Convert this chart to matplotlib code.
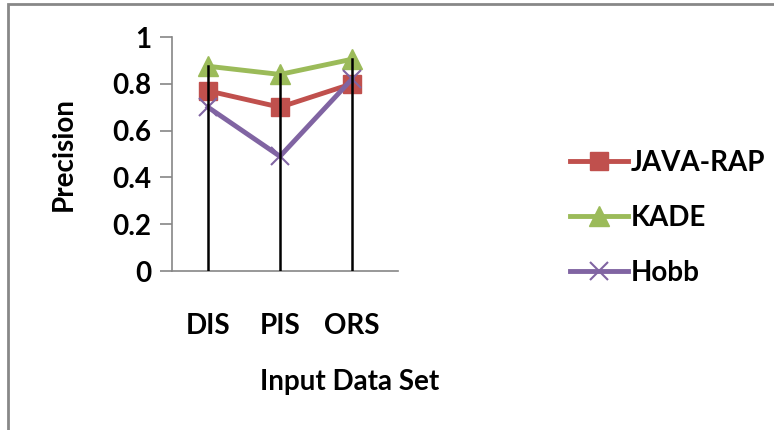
import matplotlib.pyplot as plt
from matplotlib.patches import Rectangle

categories = ["DIS", "PIS", "ORS"]
java_rap = [0.77, 0.70, 0.80]
kade = [0.875, 0.84, 0.905]
hobb = [0.70, 0.49, 0.82]
yticks = [0, 0.2, 0.4, 0.6, 0.8, 1]
ytick_labels = ["0", "0.2", "0.4", "0.6", "0.8", "1"]

plt.rcParams['font.family'] = ['Lato', 'DejaVu Sans']
plt.rcParams['font.weight'] = 'bold'
fs = 20

fig = plt.figure(figsize=(7.74, 4.30), dpi=100)
ax = fig.add_axes([172 / 774, 1 - 271 / 430, 226 / 774, 234 / 430])

x = list(range(len(categories)))
ax.plot(x, java_rap, color="#C0504D", lw=3.5, marker="s", ms=13, label="JAVA-RAP", zorder=3)
ax.plot(x, kade, color="#9BBB59", lw=3.5, marker="^", ms=14, label="KADE", zorder=3)
ax.plot(x, hobb, color="#8064A2", lw=3.5, marker="x", ms=13, mew=1.5, label="Hobb", zorder=3)

# drop lines from the highest point down to the axis
for i in x:
    top = max(java_rap[i], kade[i], hobb[i])
    ax.plot([i, i], [0, top], color="black", lw=1.8, zorder=4)

ax.set_xlim(-0.5, 2.64)
ax.set_ylim(0, 1)
ax.set_yticks(yticks)
ax.set_yticklabels(ytick_labels, fontsize=fs, fontweight="bold")
ax.set_xticks(x)
ax.set_xticklabels(categories, fontsize=fs, fontweight="bold")
ax.tick_params(axis="y", length=9, width=1.2, color="#868686", pad=6)
ax.tick_params(axis="x", length=0, pad=30)

for s in ["top", "right"]:
    ax.spines[s].set_visible(False)
for s in ["left", "bottom"]:
    ax.spines[s].set_color("#868686")
    ax.spines[s].set_linewidth(1.2)

ax.set_ylabel("Precision", fontsize=fs, fontweight="bold")
ax.yaxis.set_label_coords(-95 / 226, 0.5)
ax.set_xlabel("Input Data Set", fontsize=fs, fontweight="bold")
ax.xaxis.set_label_coords(178 / 226, -98 / 234)

leg = fig.legend(loc="center left", bbox_to_anchor=(570 / 774, 1 - 218 / 430),
                 frameon=False, handlelength=2.1, labelspacing=1.05,
                 borderpad=0, borderaxespad=0,
                 handletextpad=0.1, prop={"weight": "bold", "size": fs})

fig.add_artist(Rectangle((8 / 774, -0.1), 1.2, 1 - 4 / 430 + 0.1, transform=fig.transFigure,
                         fill=False, edgecolor="#888888", lw=2))

fig.savefig("out.png", dpi=100)
